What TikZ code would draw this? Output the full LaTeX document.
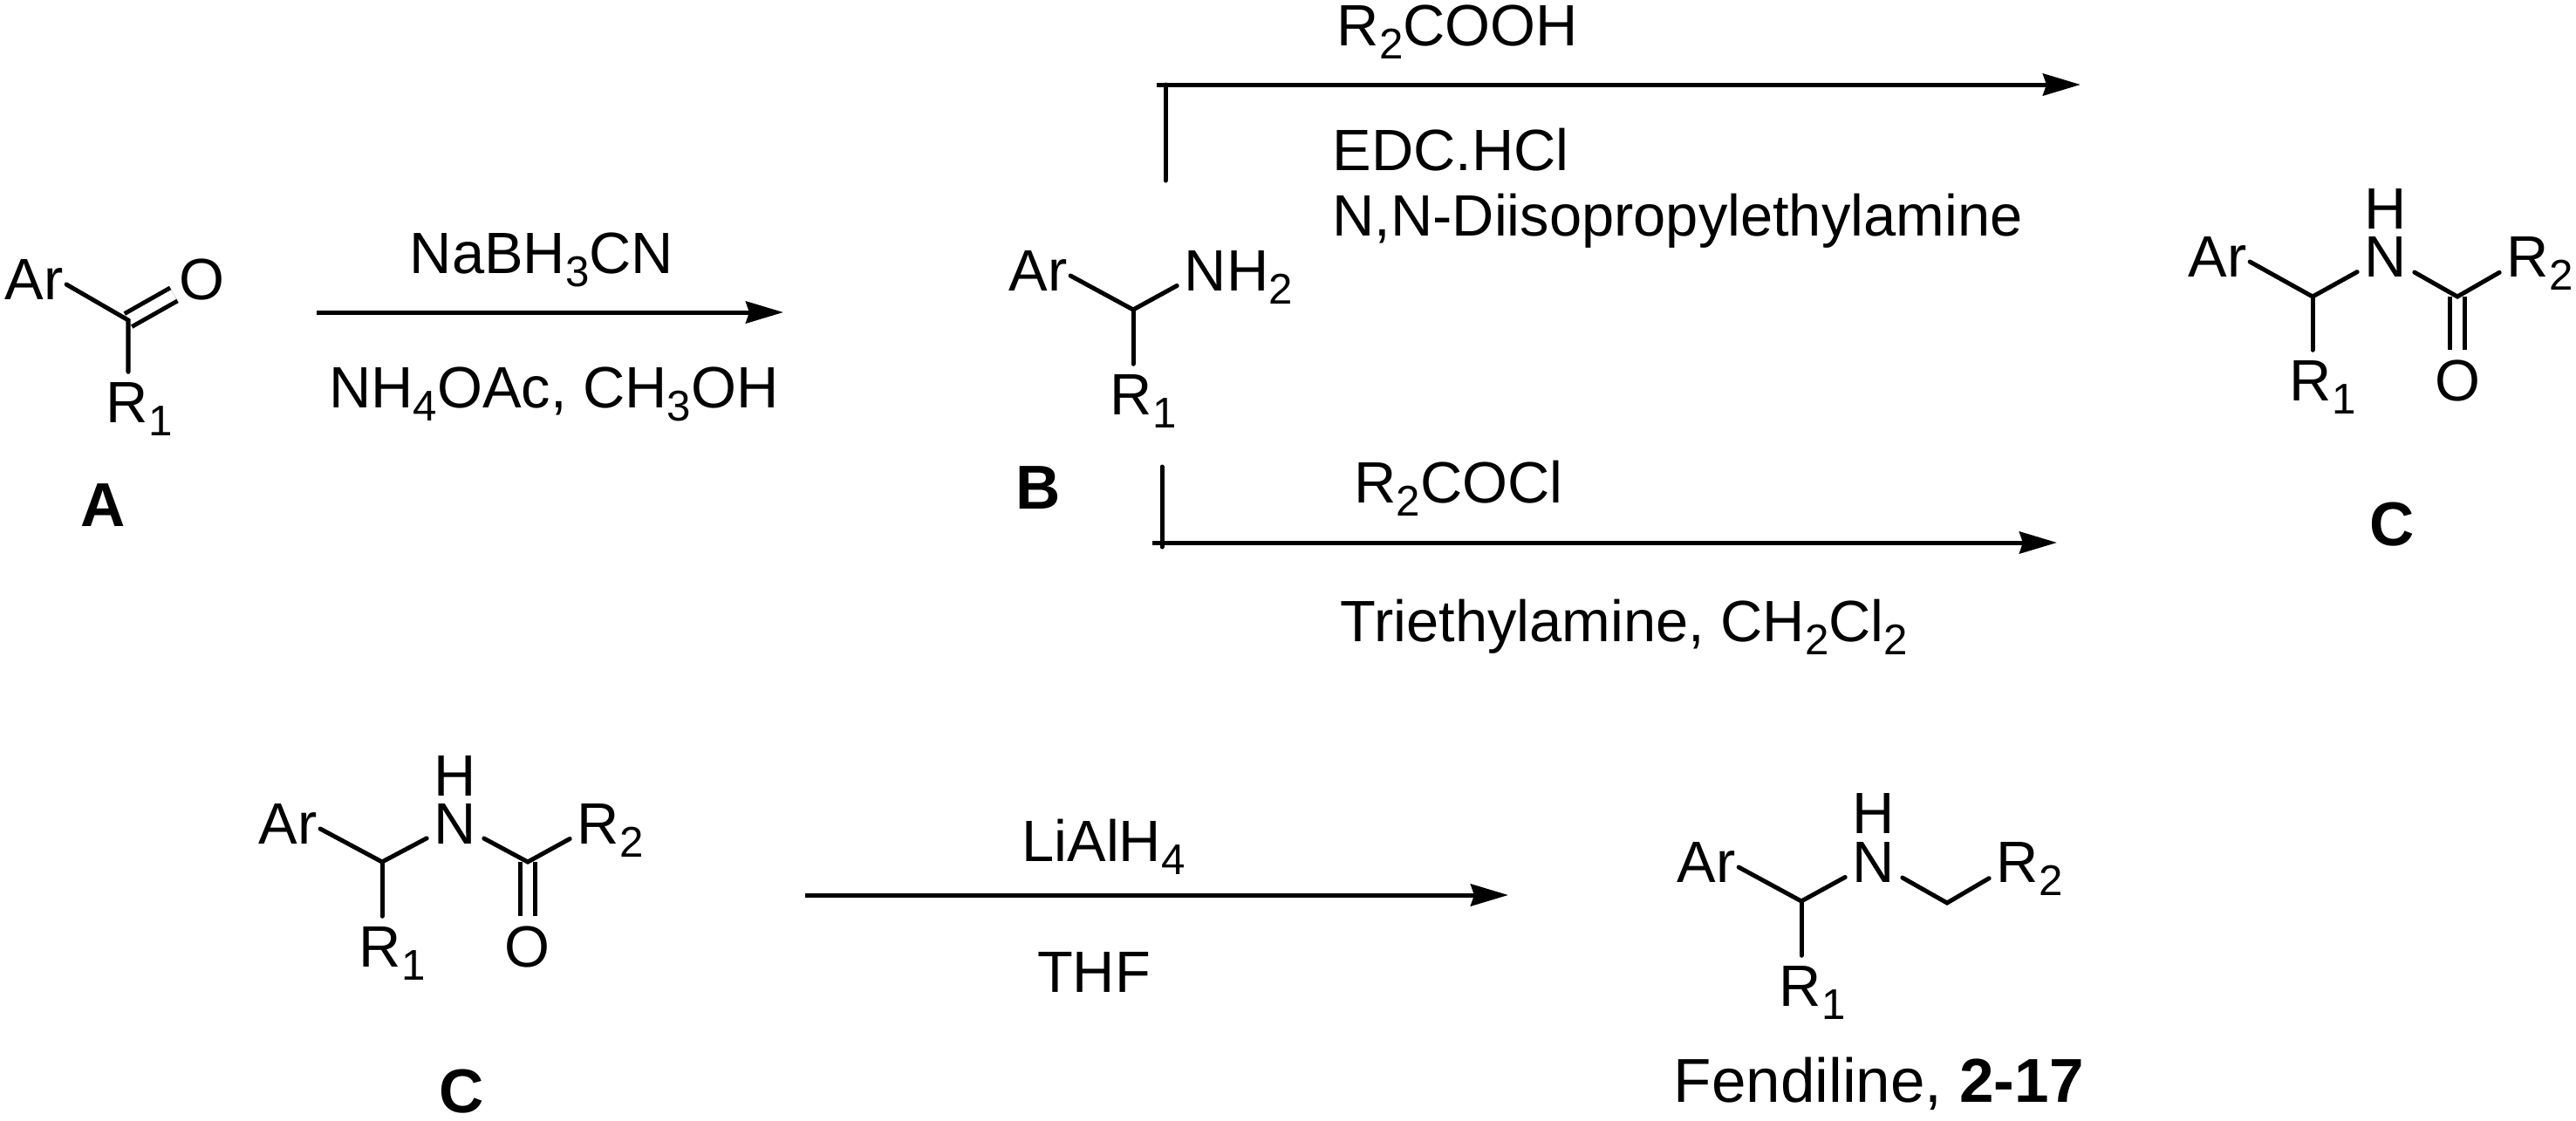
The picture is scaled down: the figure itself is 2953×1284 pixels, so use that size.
\documentclass[tikz,border=0pt]{standalone}
\usepackage{fontspec}
\setmainfont{Liberation Sans}
\usetikzlibrary{arrows.meta}
\newcommand{\subs}[1]{\raisebox{-4.5pt}{\fontsize{14}{16}\selectfont #1}}
\tikzset{
  every node/.style={font=\fontsize{19}{22}\selectfont},
  lab/.style={anchor=base,inner sep=0pt},
  cmpd/.style={lab,font=\fontsize{20.2}{24}\selectfont\bfseries},
  atom/.style={anchor=base,inner xsep=.08cm,inner ysep=.1cm,text height=.47cm,text depth=0pt},
  aryl/.style={atom,inner xsep=.03cm},
  bond/.style={line width=.05cm,line cap=round},
  dbond/.style={line width=.05cm,double,double distance=.12cm},
  rxn/.style={line width=.05cm,-{Stealth[length=.43cm,width=.25cm,inset=.04cm]}},
}
\begin{document}
\begin{tikzpicture}[x=.01cm,y=-.01cm]
\useasboundingbox (0,0) rectangle (2953,1284);

\node[aryl] (ara) at (39,343) {Ar};
\node[atom,inner xsep=.05cm] (oa) at (231,343) {O};
\node[atom] (ra) at (146,484) {R\rlap{\subs{1}}};
\coordinate (va) at (147,367);
\draw[dbond] (va) -- (oa);
\draw[bond] (ara.-10) -- (va) -- (va |- ra.north);
\node[cmpd] (la) at (118,603) {A};

\node[lab] (t1) at (621,313) {NaBH\subs{3}CN};
\node[lab] (t2) at (635,467) {NH\subs{4}OAc, CH\subs{3}OH};
\coordinate (s1) at (363,358);
\coordinate (e1) at (898,358);
\draw[rxn] (s1) -- (e1);

\node[aryl] (arb) at (1190,333) {Ar};
\node[atom] (nb) at (1382,333) {N\rlap{H\subs{2}}};
\node[atom] (rb) at (1297,475) {R\rlap{\subs{1}}};
\coordinate (vb) at (1299,355);
\draw[bond] (arb.-10) -- (vb) -- (nb);
\draw[bond] (vb) -- (vb |- rb.north);
\node[cmpd] (lb) at (1190,583) {B};

\coordinate (s2) at (1326,97);
\coordinate (e2) at (2385,97);
\coordinate (c2) at (1336,97);
\coordinate (d2) at (1336,207);
\draw[rxn] (s2) -- (e2);
\draw[bond] (c2) -- (d2);
\node[lab] (t3) at (1671,52) {R\subs{2}COOH};
\node[lab] (t4) at (1663,195) {EDC.HCl};
\node[lab] (t5) at (1923,270) {N,N-Diisopropylethylamine};

\coordinate (s3) at (1321,622);
\coordinate (e3) at (2358,622);
\coordinate (c3) at (1332,627);
\coordinate (d3) at (1332,535);
\draw[rxn] (s3) -- (e3);
\draw[bond] (c3) -- (d3);
\node[lab] (t6) at (1672,576) {R\subs{2}COCl};
\node[lab] (t7) at (1862,735) {Triethylamine, CH\subs{2}Cl\subs{2}};

\node[aryl] (arc) at (2542,317) {Ar};
\node[atom] (hc) at (2735,262) {H};
\node[atom] (nc) at (2735,317) {N};
\node[atom] (r2c) at (2898,317) {R\rlap{\subs{2}}};
\node[atom] (rc) at (2649,459) {R\rlap{\subs{1}}};
\node[atom] (oc) at (2817,459) {O};
\coordinate (vc) at (2651,340);
\coordinate (wc) at (2817,340);
\draw[dbond] (wc) -- (wc |- oc.north);
\draw[bond] (arc.-10) -- (vc) -- (nc);
\draw[bond] (vc) -- (vc |- rc.north);
\draw[bond] (nc) -- (wc) -- (r2c);
\node[cmpd] (lc) at (2742,625) {C};

\node[aryl] (ard) at (330,967) {Ar};
\node[atom] (hd) at (522,912) {H};
\node[atom] (nd) at (522,967) {N};
\node[atom] (r2d) at (686,967) {R\rlap{\subs{2}}};
\node[atom] (rd) at (436,1108) {R\rlap{\subs{1}}};
\node[atom] (od) at (604,1108) {O};
\coordinate (vd) at (438,988);
\coordinate (wd) at (605,988);
\draw[dbond] (wd) -- (wd |- od.north);
\draw[bond] (ard.-10) -- (vd) -- (nd);
\draw[bond] (vd) -- (vd |- rd.north);
\draw[bond] (nd) -- (wd) -- (r2d);
\node[cmpd] (ld) at (529,1275) {C};

\node[lab] (t8) at (1265,987) {LiAlH\subs{4}};
\node[lab] (t9) at (1254,1137) {THF};
\coordinate (s4) at (923,1026);
\coordinate (e4) at (1729,1026);
\draw[rxn] (s4) -- (e4);

\node[aryl] (are) at (1956,1011) {Ar};
\node[atom] (he) at (2148,955) {H};
\node[atom] (ne) at (2148,1011) {N};
\node[atom] (r2e) at (2313,1011) {R\rlap{\subs{2}}};
\node[atom] (re) at (2064,1153) {R\rlap{\subs{1}}};
\coordinate (ve) at (2065,1033);
\coordinate (we) at (2232,1035);
\draw[bond] (are.-10) -- (ve) -- (ne);
\draw[bond] (ve) -- (ve |- re.north);
\draw[bond] (ne) -- (we) -- (r2e);
\node[lab,anchor=base west,font=\fontsize{20.2}{24}\selectfont] (lf) at (1918,1263) {Fendiline, \textbf{2-17}};
\end{tikzpicture}
\end{document}
